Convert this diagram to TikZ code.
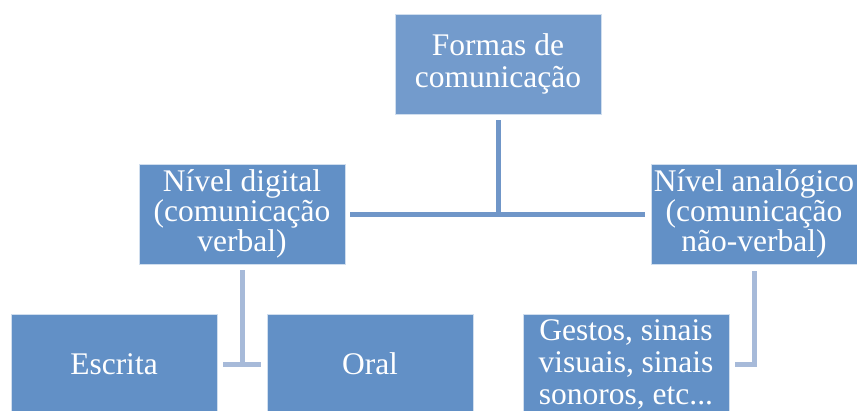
\documentclass[tikz,border=0pt]{standalone}
\usepackage{fontspec}
\setmainfont{Liberation Serif}
\definecolor{boxblue}{HTML}{6290C6}
\definecolor{topblue}{HTML}{739BCC}
\definecolor{linkblue}{HTML}{7096C8}
\definecolor{sublink}{HTML}{A7BAD9}
\begin{document}
\begin{tikzpicture}[x=1pt,y=-1pt,line join=miter,
	box/.style={fill=boxblue,draw=white!70!boxblue,line width=0.8pt,minimum width=206,minimum height=100,inner sep=0pt,text=white,align=center,font=\fontsize{31.5}{32}\selectfont},
	midbox/.style={box,font=\fontsize{31.5}{30}\selectfont},
	mainlink/.style={draw=linkblue,line width=5pt},
	sublink/.style={draw=sublink,line width=5pt}]
	\useasboundingbox (0,0) rectangle (857,410);
	\clip (0,0) rectangle (857,410);
	\node[box,fill=topblue] (forma) at (498,64) {Formas de\\comunicação};
	\node[midbox] (digital) at (242,214) {Nível digital\\(comunicação\\verbal)};
	\node[midbox] (analog) at (754,214) {Nível analógico\\(comunicação\\não-verbal)};
	\node[box] (escrita) at (114,364) {Escrita};
	\node[box] (oral) at (370,364) {Oral};
	\node[box] (gestos) at (626,364) {Gestos, sinais\\visuais, sinais\\sonoros, etc...};
	% ligacoes
	\draw[mainlink] ([yshift=-6]forma.south) -- (forma.south |- digital.east);
	\draw[mainlink] ([xshift=5]digital.east) -- ([xshift=-6]analog.west);
	\draw[sublink] ([yshift=-6]digital.south) -- (digital.south |- escrita.east);
	\draw[sublink] ([xshift=6]escrita.east) -- ([xshift=-6]oral.west);
	\draw[sublink] ([yshift=-7]analog.south) -- (analog.south |- gestos.east) -- ([xshift=6]gestos.east);
\end{tikzpicture}
\end{document}
